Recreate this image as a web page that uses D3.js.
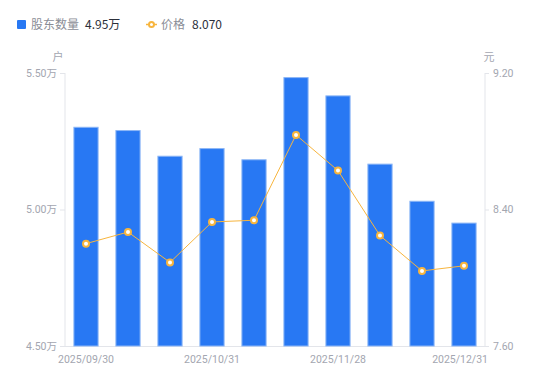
<!DOCTYPE html>
<html><head><meta charset="utf-8">
<script src="https://cdn.jsdelivr.net/npm/d3@7/dist/d3.min.js"></script>
<style>
html,body{margin:0;padding:0;background:#fff;}
svg{display:block;font-family:"Noto Sans CJK SC","Noto Sans",sans-serif;}
</style></head>
<body><svg id="c" width="550" height="381"></svg>
<script>
const dates = ["2025/09/30","2025/10/10","2025/10/20","2025/10/31","2025/11/10","2025/11/20","2025/11/28","2025/12/10","2025/12/20","2025/12/31"];
const holders = [5.303, 5.291, 5.197, 5.225, 5.184, 5.485, 5.418, 5.168, 5.032, 4.952];
const prices = [8.20, 8.268, 8.09, 8.327, 8.337, 8.837, 8.628, 8.247, 8.04, 8.070];
const leftTicks = [4.5, 5.0, 5.5];
const rightTicks = [7.6, 8.4, 9.2];
const shownLabels = ["2025/09/30","2025/10/31","2025/11/28","2025/12/31"];

const svg = d3.select("#c");
const L = 65, R = 485, T = 73, B = 346;
const x = d3.scaleBand().domain(dates).range([L, R]).paddingInner(0.4).paddingOuter(0.2);
const yL = d3.scaleLinear().domain([4.5, 5.5]).range([B, T]);
const yR = d3.scaleLinear().domain([7.6, 9.2]).range([B, T]);
const axisColor = "#e3e5ea", textColor = "#a3a6b0";

// left axis
const gl = svg.append("g").attr("transform", `translate(${L},0)`)
  .call(d3.axisLeft(yL).tickValues(leftTicks).tickSize(5).tickPadding(3).tickFormat(d => d.toFixed(2) + "万"));
// right axis
const gr = svg.append("g").attr("transform", `translate(${R},0)`)
  .call(d3.axisRight(yR).tickValues(rightTicks).tickSize(4).tickPadding(4).tickFormat(d => d.toFixed(2)));
[gl, gr].forEach(g => {
  g.select(".domain").attr("stroke", axisColor);
  g.selectAll(".tick line").attr("stroke", axisColor);
  g.selectAll(".tick text").attr("fill", textColor).attr("font-size", 10.5).attr("font-family", "Roboto, 'Noto Sans CJK SC', sans-serif");
});
gl.select(".domain").attr("d", `M0,${T}V${B}`);
gr.select(".domain").attr("d", `M0,${T}V${B}`);

// bottom baseline
svg.append("line").attr("x1", L).attr("x2", R).attr("y1", B + 0.5).attr("y2", B + 0.5).attr("stroke", axisColor);

// x labels
const gx = svg.append("g").attr("transform", `translate(0,${B})`)
  .call(d3.axisBottom(x).tickValues(shownLabels).tickSize(0).tickPadding(10));
gx.select(".domain").remove();
gx.selectAll(".tick text").attr("fill", textColor).attr("font-size", 10.5).attr("font-family", "Roboto, 'Noto Sans', sans-serif")
  .attr("text-anchor", d => d === "2025/12/31" ? "end" : "middle")
  .attr("dx", d => d === "2025/12/31" ? 24 : 0);

// unit labels
svg.append("text").attr("x", 58).attr("y", 61).attr("text-anchor", "middle").attr("fill", textColor).attr("font-size", 11).text("户");
svg.append("text").attr("x", 489).attr("y", 61).attr("text-anchor", "middle").attr("fill", textColor).attr("font-size", 11).text("元");

// bars
svg.append("g").selectAll("rect").data(dates).join("rect")
  .attr("x", d => x(d) + 0.5)
  .attr("y", (d, i) => yL(holders[i]) + 0.5)
  .attr("width", x.bandwidth() - 1)
  .attr("height", (d, i) => B - yL(holders[i]) - 0.5)
  .attr("fill", "#2878f3").attr("stroke", "#8cb6f6").attr("stroke-width", 1);

// line
const cx = d => x(d) + x.bandwidth() / 2;
svg.append("path").datum(dates)
  .attr("d", d3.line().x(d => cx(d)).y((d, i) => yR(prices[i])))
  .attr("fill", "none").attr("stroke", "#f7b53e").attr("stroke-width", 1);
svg.append("g").selectAll("circle").data(dates).join("circle")
  .attr("cx", d => cx(d)).attr("cy", (d, i) => yR(prices[i])).attr("r", 3)
  .attr("fill", "#fff").attr("stroke", "#f7b53e").attr("stroke-width", 2);

// legend
const lg = svg.append("g");
lg.append("rect").attr("x", 17).attr("y", 20).attr("width", 9).attr("height", 9).attr("rx", 1).attr("fill", "#2878f3");
lg.append("text").attr("x", 31).attr("y", 29).attr("font-size", 12).attr("fill", "#8a8d96").text("股东数量");
lg.append("text").attr("x", 85).attr("y", 29).attr("font-size", 12).attr("fill", "#2b2f3a").text(holders[holders.length - 1].toFixed(2) + "万");
lg.append("line").attr("x1", 146).attr("x2", 157).attr("y1", 24.5).attr("y2", 24.5).attr("stroke", "#f7b53e").attr("stroke-width", 1.5);
lg.append("circle").attr("cx", 151.5).attr("cy", 24.5).attr("r", 2.5).attr("fill", "#fff").attr("stroke", "#f7b53e").attr("stroke-width", 2);
lg.append("text").attr("x", 161).attr("y", 29).attr("font-size", 12).attr("fill", "#8a8d96").text("价格");
lg.append("text").attr("x", 192).attr("y", 29).attr("font-size", 12).attr("fill", "#2b2f3a").text(prices[prices.length - 1].toFixed(3));
</script></body></html>
